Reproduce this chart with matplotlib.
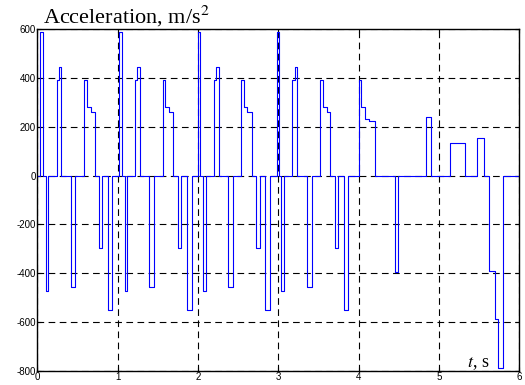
import matplotlib
matplotlib.use("Agg")
import matplotlib.pyplot as plt

# step breakpoints (s) and the acceleration held after each one (m/s^2)
t_steps = [
    0.0,
    0.033, 0.067, 0.104, 0.129, 0.242, 0.267, 0.296, 0.417, 0.471,
    0.583, 0.617, 0.667, 0.713, 0.767, 0.804, 0.883, 0.933,
    1.021, 1.054, 1.088, 1.117, 1.217, 1.242, 1.275, 1.392, 1.454,
    1.563, 1.596, 1.638, 1.692, 1.746, 1.792, 1.863, 1.921,
    2.000, 2.029, 2.063, 2.096, 2.196, 2.221, 2.258, 2.371, 2.437,
    2.542, 2.571, 2.617, 2.671, 2.729, 2.767, 2.838, 2.896,
    2.979, 3.008, 3.037, 3.075, 3.174, 3.203, 3.237, 3.353, 3.415,
    3.515, 3.552, 3.602, 3.643, 3.705, 3.747, 3.817, 3.871,
    4.000, 4.025, 4.079, 4.133, 4.204, 4.454, 4.491, 4.842, 4.904,
    5.144, 5.321, 5.473, 5.564, 5.626, 5.700, 5.738, 5.792, 6.0,
]
acc_steps = [
    0,
    590, 0, -472, 0, 392, 445, 0, -458, 0,
    392, 283, 262, 0, -296, 0, -550, 0,
    590, 0, -472, 0, 392, 445, 0, -458, 0,
    392, 283, 262, 0, -296, 0, -550, 0,
    590, 0, -472, 0, 392, 445, 0, -458, 0,
    392, 283, 262, 0, -296, 0, -550, 0,
    590, 0, -472, 0, 392, 445, 0, -458, 0,
    392, 283, 262, 0, -296, 0, -550, 0,
    392, 283, 232, 223, 0, -395, 0, 239, 0,
    132, 0, 154, 0, -393, -588, -790, 0, 0,
]

x_ticks = [0, 1, 2, 3, 4, 5, 6]
y_ticks = [-800, -600, -400, -200, 0, 200, 400, 600]

plt.rcParams["mathtext.fontset"] = "stix"
plt.rcParams["axes.unicode_minus"] = False

fig = plt.figure(figsize=(5.25, 3.85), dpi=100)
ax = fig.add_axes([0.071, 0.037, 0.918, 0.887])

ax.step(t_steps, acc_steps, where="post", color="#0000ff", lw=0.8)

ax.set_xlim(0, 6)
ax.set_ylim(-800, 600)
ax.set_xticks(x_ticks)
ax.set_yticks(y_ticks)
ax.grid(True, color="k", ls=(0, (6, 4)), lw=0.8)
ax.tick_params(direction="in", top=True, right=True, length=3, width=0.8,
               labelsize=7, pad=1)
for lab in ax.get_xticklabels() + ax.get_yticklabels():
    lab.set_family("Liberation Sans")
for sp in ax.spines.values():
    sp.set_linewidth(1.0)

fig.text(43 / 525, 0.940, r"Acceleration, m/s$^2$", family="Liberation Serif",
         fontsize=16, va="baseline", ha="left")
ax.text(0.938, 0.011, r"$t$, s", transform=ax.transAxes, ha="right",
        va="baseline", family="Liberation Serif", fontsize=13)

fig.savefig("out.png", dpi=100)
